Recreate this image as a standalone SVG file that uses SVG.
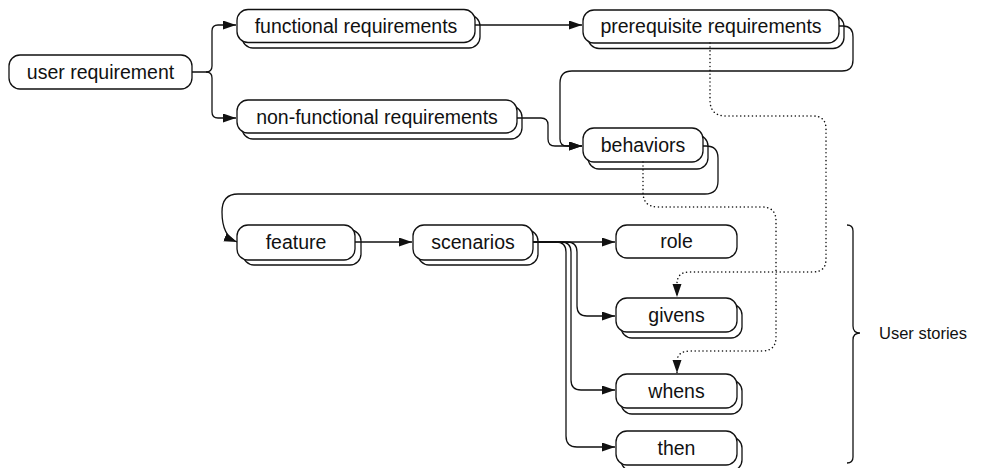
<svg xmlns="http://www.w3.org/2000/svg" width="987" height="468" viewBox="0 0 987 468">
  <style>
    .box { fill: #ffffff; stroke: #111111; stroke-width: 1.3; }
    .lbl { font-family: "Liberation Sans", Arial, sans-serif; font-size: 19.5px; fill: #111111; text-anchor: middle; dominant-baseline: central; }
    .edge { fill: none; stroke: #111111; stroke-width: 1.3; }
    .dot { fill: none; stroke: #111111; stroke-width: 1.5; stroke-dasharray: 0.1 3.8; stroke-linecap: round; }
    .note { font-family: "Liberation Sans", Arial, sans-serif; font-size: 16.5px; fill: #111111; dominant-baseline: central; }
  </style>
  <defs>
    <marker id="arrow" markerUnits="userSpaceOnUse" markerWidth="14" markerHeight="10" refX="13" refY="4.5" orient="auto">
      <path d="M0,0 L13,4.5 L0,9 z" fill="#111111"/>
    </marker>
  </defs>
  <rect width="987" height="468" fill="#ffffff"/>

  <!-- nodes -->
  <g id="user-requirement">
    <rect class="box" x="9" y="55" width="183" height="34" rx="11"/>
    <text class="lbl" x="100.5" y="72">user requirement</text>
  </g>
  <g id="functional-requirements">
    <rect class="box" x="242" y="15" width="238" height="33" rx="11"/>
    <rect class="box" x="237" y="9.5" width="238" height="33" rx="11"/>
    <text class="lbl" x="356" y="26">functional requirements</text>
  </g>
  <g id="prerequisite-requirements">
    <rect class="box" x="588" y="15.5" width="256" height="33" rx="11"/>
    <rect class="box" x="583" y="10" width="256" height="33" rx="11"/>
    <text class="lbl" x="711" y="26">prerequisite requirements</text>
  </g>
  <g id="non-functional-requirements">
    <rect class="box" x="242" y="106" width="280" height="33" rx="11"/>
    <rect class="box" x="237" y="100" width="280" height="33" rx="11"/>
    <text class="lbl" x="377" y="117">non-functional requirements</text>
  </g>
  <g id="behaviors">
    <rect class="box" x="588" y="135" width="120" height="34" rx="11"/>
    <rect class="box" x="583" y="128" width="120" height="34" rx="11"/>
    <text class="lbl" x="643" y="145">behaviors</text>
  </g>
  <g id="feature">
    <rect class="box" x="243" y="230" width="118" height="35" rx="11"/>
    <rect class="box" x="237" y="225" width="118" height="35" rx="11"/>
    <text class="lbl" x="296" y="242">feature</text>
  </g>
  <g id="scenarios">
    <rect class="box" x="418" y="230" width="120" height="35" rx="11"/>
    <rect class="box" x="413" y="225" width="120" height="35" rx="11"/>
    <text class="lbl" x="473" y="242">scenarios</text>
  </g>
  <g id="role">
    <rect class="box" x="616" y="225" width="121" height="33" rx="11"/>
    <text class="lbl" x="676.5" y="241">role</text>
  </g>
  <g id="givens">
    <rect class="box" x="621" y="304" width="121" height="34" rx="11"/>
    <rect class="box" x="616" y="298" width="121" height="34" rx="11"/>
    <text class="lbl" x="676.5" y="315">givens</text>
  </g>
  <g id="whens">
    <rect class="box" x="621" y="380" width="121" height="34" rx="11"/>
    <rect class="box" x="616" y="374" width="121" height="34" rx="11"/>
    <text class="lbl" x="676.5" y="391">whens</text>
  </g>
  <g id="then">
    <rect class="box" x="621" y="437" width="121" height="34" rx="11"/>
    <rect class="box" x="616" y="431" width="121" height="34" rx="11"/>
    <text class="lbl" x="676.5" y="448">then</text>
  </g>

  <!-- connectors -->
  <g id="connectors">
    <path class="edge" d="M192,72 H206 Q212,72 212,66 V31 Q212,25 218,25 H236" marker-end="url(#arrow)"/>
    <path class="edge" d="M206,72 Q212,72 212,78 V112 Q212,118 218,118 H236" marker-end="url(#arrow)"/>
    <path class="edge" d="M475,25 H582" marker-end="url(#arrow)"/>
    <path class="edge" d="M839,26 H843 Q853,26 853,37 V60 Q853,71 842,71 H572 Q560,71 560,83 V139 Q560,146 567,146 H582" marker-end="url(#arrow)"/>
    <path class="edge" d="M517,118 H541 Q548,118 548,125 V139 Q548,146 555,146 H582" marker-end="url(#arrow)"/>
    <path class="edge" d="M703,146 H706 Q718,146 718,158 V181 Q718,194 705,194 H238 Q222,194 222,212 Q222,236 237,242" marker-end="url(#arrow)"/>
    <path class="edge" d="M355,242 H412" marker-end="url(#arrow)"/>
    <path class="edge" d="M533,242 H615" marker-end="url(#arrow)"/>
    <path class="edge" d="M533,242 H567 Q577,242 577,252 V306 Q577,316 587,316 H615" marker-end="url(#arrow)"/>
    <path class="edge" d="M533,242 H561 Q571,242 571,252 V380 Q571,390 581,390 H615" marker-end="url(#arrow)"/>
    <path class="edge" d="M533,242 H556 Q566,242 566,252 V436 Q566,447 577,447 H615" marker-end="url(#arrow)"/>
    <path class="dot" d="M710,43 V100 Q710,116 726,116 H813 Q826,116 826,129 V259 Q826,272 813,272 H689 Q677,272 677,284 V297" marker-end="url(#arrow)"/>
    <path class="dot" d="M643,162 V192 Q643,207 658,207 H762 Q776,207 776,221 V337 Q776,351 762,351 H690 Q677,351 677,362 V373" marker-end="url(#arrow)"/>
  </g>

  <!-- bracket -->
  <g id="user-stories">
    <path class="edge" d="M847,225 Q853,225 853,231 V326 Q853,333 860,333 Q853,333 853,340 V457 Q853,463 847,463"/>
    <text class="note" x="879" y="333">User stories</text>
  </g>
</svg>
